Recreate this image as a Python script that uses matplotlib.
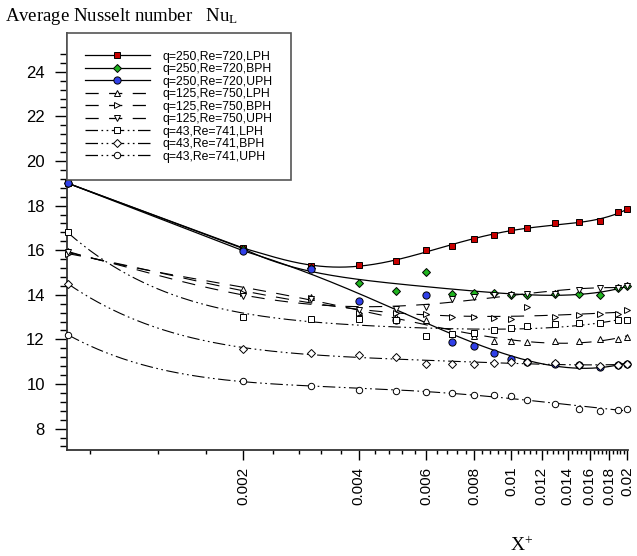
import numpy as np
import matplotlib
matplotlib.use('Agg')
import matplotlib.pyplot as plt
from matplotlib.lines import Line2D
from matplotlib.ticker import NullFormatter

plt.rcParams['font.family'] = ['Liberation Sans', 'DejaVu Sans']
plt.rcParams['mathtext.fontset'] = 'custom'
plt.rcParams['mathtext.rm'] = 'Liberation Serif'
plt.rcParams['mathtext.it'] = 'Liberation Serif:italic'
plt.rcParams['lines.scale_dashes'] = False

# dimensionless axial distance X+
x = [0.0007, 0.002, 0.003, 0.004, 0.005, 0.006, 0.007, 0.008, 0.009,
     0.01, 0.011, 0.013, 0.015, 0.017, 0.019, 0.02]

q250_lph = [19.0, 16.1, 15.3, 15.35, 15.5, 16.0, 16.2, 16.5, 16.7, 16.9, 17.0, 17.2, 17.25, 17.3, 17.7, 17.85]
q250_bph = [19.0, 16.05, 15.2, 14.55, 14.15, 15.0, 14.05, 14.1, 14.1, 14.0, 14.0, 14.05, 14.05, 14.0, 14.3, 14.4]
q250_uph = [19.0, 15.95, 15.15, 13.7, 12.85, 14.0, 11.9, 11.7, 11.4, 11.1, 11.0, 10.9, 10.85, 10.75, 10.85, 10.9]
q125_lph = [15.95, 14.25, 13.9, 13.25, 13.0, 12.85, 12.25, 12.15, 11.95, 11.95, 11.9, 11.95, 11.95, 12.0, 12.0, 12.1]
q125_bph = [15.85, 14.1, 13.85, 13.2, 13.2, 13.15, 13.0, 13.0, 12.95, 12.9, 13.45, 13.0, 13.1, 13.15, 13.15, 13.3]
q125_uph = [15.9, 13.95, 13.8, 13.3, 13.35, 13.45, 13.8, 13.9, 14.0, 14.0, 14.05, 14.05, 14.2, 14.3, 14.3, 14.4]
q43_lph = [16.8, 13.0, 12.9, 12.9, 12.85, 12.15, 12.25, 12.3, 12.4, 12.5, 12.6, 12.7, 12.75, 12.75, 12.85, 12.85]
q43_bph = [14.5, 11.55, 11.4, 11.3, 11.2, 10.9, 10.9, 10.9, 10.95, 11.0, 11.0, 10.95, 10.85, 10.8, 10.85, 10.9]
q43_uph = [12.2, 10.15, 9.9, 9.75, 9.7, 9.65, 9.6, 9.5, 9.5, 9.45, 9.3, 9.1, 8.9, 8.8, 8.85, 8.9]

labels = ['q=250,Re=720,LPH', 'q=250,Re=720,BPH', 'q=250,Re=720,UPH',
          'q=125,Re=750,LPH', 'q=125,Re=750,BPH', 'q=125,Re=750,UPH',
          'q=43,Re=741,LPH', 'q=43,Re=741,BPH', 'q=43,Re=741,UPH']
xtick_labels = ['0.002', '0.004', '0.006', '0.008', '0.01',
                '0.012', '0.014', '0.016', '0.018', '0.02']

solid = (None, None)
dash = (0, (9.5, 7.5))
dashdotdot = (0, (9, 2.5, 1.2, 2.5, 1.2, 2.5))

# data, line style, marker, face colour, marker size, fit degree, straight lead-in
series = [
    (q250_lph, solid, 's', '#c80000', 4.2, 5, True),
    (q250_bph, solid, 'D', '#1fb41f', 4.0, 4, True),
    (q250_uph, solid, 'o', '#3040e8', 5.2, 4, True),
    (q125_lph, dash, '^', 'white', 4.2, 4, False),
    (q125_bph, dash, '>', 'white', 4.2, 4, False),
    (q125_uph, dash, 'v', 'white', 4.2, 4, False),
    (q43_lph, dashdotdot, 's', 'white', 4.0, 4, False),
    (q43_bph, dashdotdot, 'D', 'white', 3.6, 4, False),
    (q43_uph, dashdotdot, 'o', 'white', 4.6, 4, False),
]

fig = plt.figure(figsize=(6.37, 5.56), dpi=100)
ax = fig.add_axes([67 / 637, 1 - 450 / 556, 561 / 637, 417 / 556])
ax.set_xscale('log')

lx = np.log10(x)
handles = []
for y, ls, m, fc, ms, deg, lead in series:
    if lead:
        # smooth fit downstream, straight segment from the inlet point
        xs = np.geomspace(x[1], x[-1], 300)
        coef = np.polyfit(lx[1:], y[1:], deg)
        line_x = np.concatenate([[x[0]], xs])
        line_y = np.concatenate([[y[0]], np.polyval(coef, np.log10(xs))])
    else:
        line_x = np.geomspace(x[0], x[-1], 300)
        coef = np.polyfit(lx, y, deg)
        line_y = np.polyval(coef, np.log10(line_x))
    if ls == solid:
        ax.plot(line_x, line_y, color='k', lw=0.9, zorder=2)
    else:
        ax.plot(line_x, line_y, color='k', lw=0.8, linestyle=ls, zorder=2)
    ax.plot(x, y, linestyle='none', marker=m, ms=ms, mfc=fc, mec='k',
            mew=0.7, zorder=3, clip_on=False)
    h = Line2D([], [], color='k', lw=0.9, marker=m, ms=ms, mfc=fc,
               mec='k', mew=0.7)
    if ls != solid:
        h.set_linestyle(ls)
    handles.append(h)

ax.set_xlim(0.000696, 0.02012)
ax.set_ylim(7.04, 25.74)

ax.set_xticks([0.002, 0.004, 0.006, 0.008, 0.01, 0.012, 0.014, 0.016, 0.018, 0.02])
ax.set_xticklabels(xtick_labels, rotation=90, fontsize=11)
ax.set_xticks(np.arange(0.0008, 0.02001, 0.0004), minor=True)
ax.xaxis.set_minor_formatter(NullFormatter())
ax.set_yticks(range(8, 25, 2))
ax.set_yticklabels([str(v) for v in range(8, 25, 2)], fontsize=12)
ax.set_yticks(np.arange(7.2, 24.9, 0.4), minor=True)

ax.tick_params(axis='y', which='major', direction='out', length=9, width=1, pad=7)
ax.tick_params(axis='y', which='minor', direction='out', length=5, width=1)
ax.tick_params(axis='x', which='major', direction='out', length=7, width=1, pad=5)
ax.tick_params(axis='x', which='minor', direction='out', length=3, width=1)

ax.spines['top'].set_visible(False)
ax.spines['right'].set_visible(False)
for s in ['left', 'bottom']:
    ax.spines[s].set_linewidth(1.3)
    ax.spines[s].set_color('#333333')

leg = ax.legend(handles, labels, loc='upper left', bbox_to_anchor=(0, 1),
                borderaxespad=0, fontsize=8.8, handlelength=5.3,
                handletextpad=1.1, labelspacing=0.04, borderpad=1.45,
                fancybox=False, framealpha=1)
leg.get_frame().set_edgecolor('#555555')
leg.get_frame().set_linewidth(1.2)

fig.text(5 / 637, 1 - 21 / 556, 'Average Nusselt number   Nu$_{\\mathrm{L}}$',
         family='Liberation Serif', fontsize=13.5, va='baseline', ha='left')
fig.text(522 / 637, 1 - 551 / 556, 'X$^{+}$', family='Liberation Serif',
         fontsize=14, va='baseline', ha='center')

fig.savefig('out.png', dpi=100)
